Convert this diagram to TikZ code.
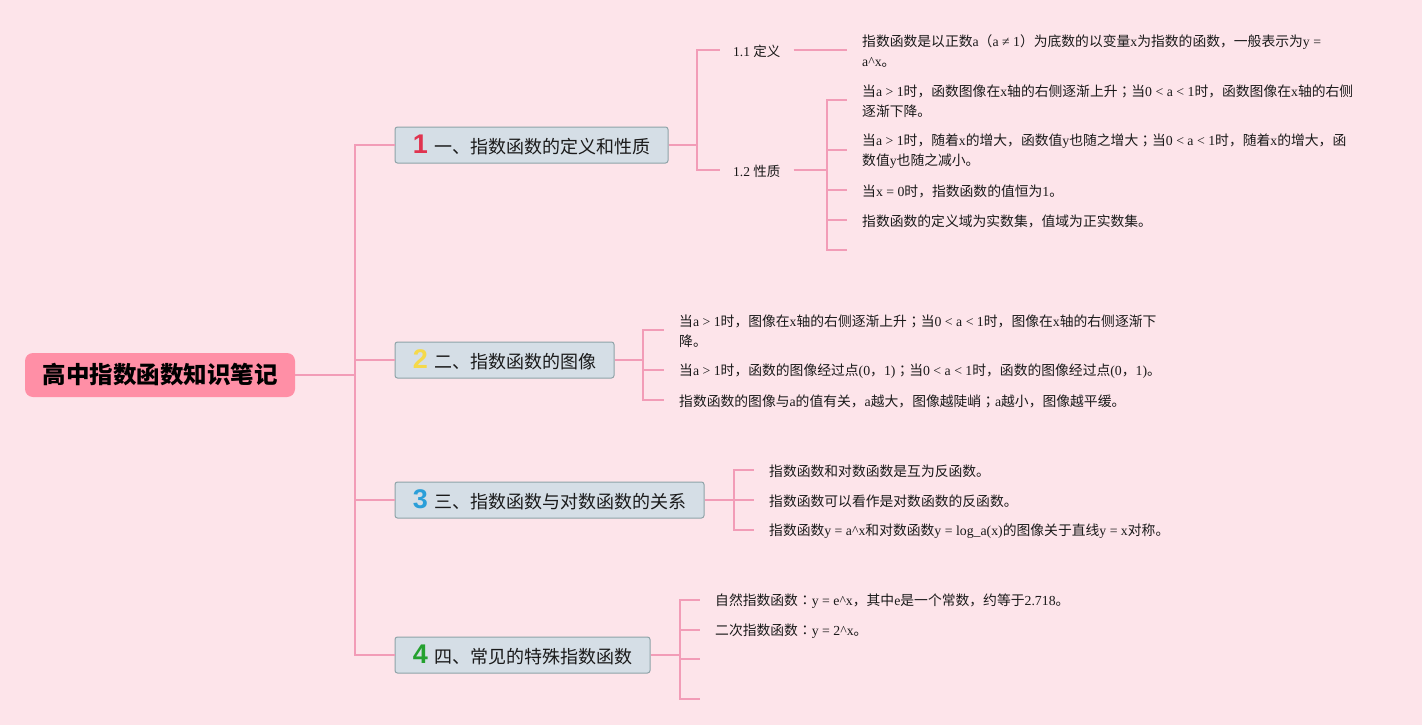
\documentclass[tikz,border=0pt]{standalone}
\usepackage{fontspec}
\setmainfont{Liberation Serif}
\newfontfamily\cjkfont{Noto Sans CJK SC}
\newfontfamily\cjkjp{Noto Sans CJK JP}
\newfontfamily\numfont{Liberation Sans}
\XeTeXinterchartokenstate=1
\newXeTeXintercharclass\CJKcls
\newXeTeXintercharclass\PUNcls
\newcount\cjkcnt
\def\setcjkrange#1#2{\cjkcnt=#1\relax\loop\XeTeXcharclass\cjkcnt=\CJKcls\relax\advance\cjkcnt by 1\relax\ifnum\cjkcnt<#2\relax\repeat}
\setcjkrange{"3000}{"3040}
\setcjkrange{"4E00}{"A000}
\setcjkrange{"FF00}{"FFF0}
\XeTeXcharclass"FF1A=\PUNcls
\XeTeXcharclass"FF1B=\PUNcls
\XeTeXinterchartoks 0 \CJKcls = {\cjkfont}
\XeTeXinterchartoks 4095 \CJKcls = {\cjkfont}
\XeTeXinterchartoks \CJKcls 0 = {\rmfamily}
\XeTeXinterchartoks \CJKcls 4095 = {\rmfamily}
\XeTeXinterchartoks 0 \PUNcls = {\cjkjp}
\XeTeXinterchartoks 4095 \PUNcls = {\cjkjp}
\XeTeXinterchartoks \PUNcls 0 = {\rmfamily}
\XeTeXinterchartoks \PUNcls 4095 = {\rmfamily}
\XeTeXinterchartoks \CJKcls \PUNcls = {\cjkjp}
\XeTeXinterchartoks \PUNcls \CJKcls = {\cjkfont}
\definecolor{bgc}{HTML}{FDE4EA}
\definecolor{linec}{HTML}{F29CB7}
\definecolor{rootc}{HTML}{FF8FA6}
\definecolor{topicf}{HTML}{D5DEE6}
\definecolor{topicb}{HTML}{8EA3A8}
\definecolor{textc}{HTML}{1A1A1A}
\definecolor{c1}{HTML}{E0334F}
\definecolor{c2}{HTML}{F5D94A}
\definecolor{c3}{HTML}{2B9FD9}
\definecolor{c4}{HTML}{24A12F}
\newcommand\numc[2]{{\numfont\bfseries\fontsize{27}{27}\selectfont\color{#1}#2}\hspace{6pt}}
\tikzset{
 conn/.style={draw=linec, line width=1.5pt},
 rootbox/.style={rounded corners=8pt, fill=rootc, minimum width=270pt, minimum height=44pt, font=\fontsize{23.5}{28}\selectfont\bfseries, text=black},
 topic/.style={draw=topicb, fill=topicf, rounded corners=2.5pt, line width=1pt, minimum height=36pt, font=\fontsize{18}{22}\selectfont, text=textc, inner xsep=0pt},
 sublab/.style={font=\fontsize{13.5}{16}\selectfont, inner xsep=13pt, inner ysep=2pt, text=textc, anchor=west, yshift=-1pt},
 leaf/.style={font=\fontsize{13.8}{20}\selectfont, align=left, anchor=west, inner xsep=15pt, inner ysep=0pt, text=textc, yshift=-1.5pt},
}
\begin{document}
\begin{tikzpicture}[x=1pt,y=-1pt]
\fill[bgc] (0,0) rectangle (1422,725);
\useasboundingbox (0,0) rectangle (1422,725);
% root
\node[rootbox] (root) at (160,375) {高中指数函数知识笔记};
\coordinate (trunk) at (355,375);
% topics
\node[topic, minimum width=273pt] (t1) at (531.5,145) {\numc{c1}{1}一、指数函数的定义和性质};
\node[topic, minimum width=219pt] (t2) at (504.5,360) {\numc{c2}{2}二、指数函数的图像};
\node[topic, minimum width=309pt] (t3) at (549.5,500) {\numc{c3}{3}三、指数函数与对数函数的关系};
\node[topic, minimum width=255pt] (t4) at (522.5,655) {\numc{c4}{4}四、常见的特殊指数函数};
\draw[conn] (root.east) -- (trunk);
\draw[conn] (trunk) |- (t1.west);
\draw[conn] (trunk) |- (t2.west);
\draw[conn] (trunk) |- (t3.west);
\draw[conn] (trunk) |- (t4.west);
% branch 1
\coordinate (j1) at (697,145);
\node[sublab] (s11) at (720,50) {1.1 定义};
\node[sublab] (s12) at (720,170) {1.2 性质};
\draw[conn] (t1.east) -- (j1);
\draw[conn] (j1) |- ([yshift=1pt]s11.west);
\draw[conn] (j1) |- ([yshift=1pt]s12.west);
\node[leaf] (d1) at (847,50) {指数函数是以正数a（a ≠ 1）为底数的以变量x为指数的函数，一般表示为y =\\a\textasciicircum x。};
\draw[conn] ([yshift=1pt]s11.east) -- ([yshift=1.5pt]d1.west);
\coordinate (j12) at (827,170);
\draw[conn] ([yshift=1pt]s12.east) -- (j12);
\node[leaf] (p1) at (847,100) {当a > 1时，函数图像在x轴的右侧逐渐上升；当0 < a < 1时，函数图像在x轴的右侧\\逐渐下降。};
\node[leaf] (p2) at (847,150) {当a > 1时，随着x的增大，函数值y也随之增大；当0 < a < 1时，随着x的增大，函\\数值y也随之减小。};
\node[leaf] (p3) at (847,190) {当x = 0时，指数函数的值恒为1。};
\node[leaf] (p4) at (847,220) {指数函数的定义域为实数集，值域为正实数集。};
\coordinate (p5) at (847,250);
\draw[conn] (j12) |- ([yshift=1.5pt]p1.west);
\draw[conn] (j12) |- ([yshift=1.5pt]p2.west);
\draw[conn] (j12) |- ([yshift=1.5pt]p3.west);
\draw[conn] (j12) |- ([yshift=1.5pt]p4.west);
\draw[conn] (j12) |- (p5);
% branch 2
\coordinate (j2) at (643,360);
\draw[conn] (t2.east) -- (j2);
\node[leaf] (q1) at (664,330) {当a > 1时，图像在x轴的右侧逐渐上升；当0 < a < 1时，图像在x轴的右侧逐渐下\\降。};
\node[leaf] (q2) at (664,370) {当a > 1时，函数的图像经过点(0，1)；当0 < a < 1时，函数的图像经过点(0，1)。};
\node[leaf] (q3) at (664,400) {指数函数的图像与a的值有关，a越大，图像越陡峭；a越小，图像越平缓。};
\draw[conn] (j2) |- ([yshift=1.5pt]q1.west);
\draw[conn] (j2) |- ([yshift=1.5pt]q2.west);
\draw[conn] (j2) |- ([yshift=1.5pt]q3.west);
% branch 3
\coordinate (j3) at (734,500);
\draw[conn] (t3.east) -- (j3);
\node[leaf] (r1) at (754,470) {指数函数和对数函数是互为反函数。};
\node[leaf] (r2) at (754,500) {指数函数可以看作是对数函数的反函数。};
\node[leaf] (r3) at (754,530) {指数函数y = a\textasciicircum x和对数函数y = log\_a(x)的图像关于直线y = x对称。};
\draw[conn] (j3) |- ([yshift=1.5pt]r1.west);
\draw[conn] (j3) |- ([yshift=1.5pt]r2.west);
\draw[conn] (j3) |- ([yshift=1.5pt]r3.west);
% branch 4
\coordinate (j4) at (680,655);
\draw[conn] (t4.east) -- (j4);
\node[leaf] (u1) at (700,600) {自然指数函数：y = e\textasciicircum x，其中e是一个常数，约等于2.718。};
\node[leaf] (u2) at (700,630) {二次指数函数：y = 2\textasciicircum x。};
\coordinate (u3) at (700,659);
\coordinate (u4) at (700,699);
\draw[conn] (j4) |- ([yshift=1.5pt]u1.west);
\draw[conn] (j4) |- ([yshift=1.5pt]u2.west);
\draw[conn] (j4) |- (u3);
\draw[conn] (j4) |- (u4);
\end{tikzpicture}
\end{document}
